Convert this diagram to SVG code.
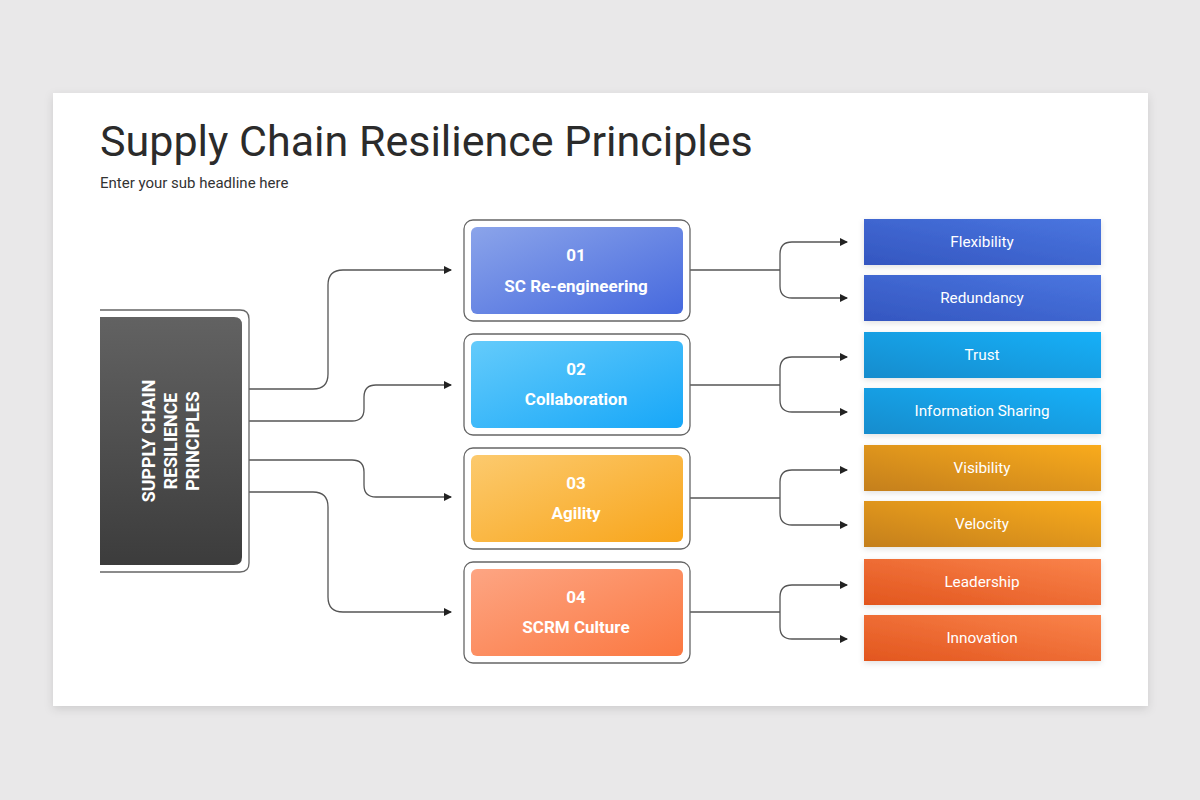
<svg xmlns="http://www.w3.org/2000/svg" width="1200" height="800" viewBox="0 0 1200 800">
<defs>
<filter id="sh" x="-5%" y="-5%" width="110%" height="115%"><feDropShadow dx="0" dy="3" stdDeviation="5" flood-color="#000" flood-opacity="0.12"/></filter>
<filter id="bs" x="-10%" y="-20%" width="120%" height="150%"><feDropShadow dx="0" dy="2" stdDeviation="3" flood-color="#000" flood-opacity="0.12"/></filter>
<linearGradient id="gDark" x1="0" y1="0" x2="0" y2="1"><stop offset="0" stop-color="#626262"/><stop offset="1" stop-color="#3c3c3c"/></linearGradient>
<linearGradient id="g1" x1="0" y1="0" x2="1" y2="1"><stop offset="0" stop-color="#8ba4ea"/><stop offset="1" stop-color="#4669de"/></linearGradient>
<linearGradient id="g2" x1="0" y1="0" x2="1" y2="1"><stop offset="0" stop-color="#64cbfb"/><stop offset="1" stop-color="#17a7f8"/></linearGradient>
<linearGradient id="g3" x1="0" y1="0" x2="1" y2="1"><stop offset="0" stop-color="#fcca6e"/><stop offset="1" stop-color="#f8a51b"/></linearGradient>
<linearGradient id="g4" x1="0" y1="0" x2="1" y2="1"><stop offset="0" stop-color="#fda583"/><stop offset="1" stop-color="#fb7841"/></linearGradient>
<linearGradient id="r1" x1="0" y1="1" x2="1" y2="0"><stop offset="0" stop-color="#3456c0"/><stop offset="1" stop-color="#4a76e0"/></linearGradient>
<linearGradient id="r2" x1="0" y1="1" x2="1" y2="0"><stop offset="0" stop-color="#168ccd"/><stop offset="1" stop-color="#18b0f8"/></linearGradient>
<linearGradient id="r3" x1="0" y1="1" x2="1" y2="0"><stop offset="0" stop-color="#c47f1a"/><stop offset="1" stop-color="#f9ab1f"/></linearGradient>
<linearGradient id="r4" x1="0" y1="1" x2="1" y2="0"><stop offset="0" stop-color="#e2561e"/><stop offset="1" stop-color="#fa834b"/></linearGradient>
<marker id="ah" markerWidth="8" markerHeight="8" refX="7" refY="4" orient="auto" markerUnits="userSpaceOnUse"><path d="M0,0 L8,4 L0,8 Z" fill="#222"/></marker>
</defs>
<style>
.ol{fill:#fff;stroke:#666;stroke-width:1.3}
.cn{fill:none;stroke:#555;stroke-width:1.3}
.num{font-family:Roboto,"Liberation Sans",sans-serif;font-weight:bold;font-size:17px;fill:#fff;text-anchor:middle}
.rl{font-family:Roboto,"Liberation Sans",sans-serif;font-size:15.3px;fill:#fff;text-anchor:middle}
</style>
<rect width="1200" height="800" fill="#e9e8e9"/>
<rect x="53" y="93" width="1095" height="613" fill="#fff" filter="url(#sh)"/>
<text x="100" y="156" font-family="Roboto,'Liberation Sans',sans-serif" font-size="43" fill="#2b2b2b">Supply Chain Resilience Principles</text>
<text x="100" y="188" font-family="Roboto,'Liberation Sans',sans-serif" font-size="15" fill="#333">Enter your sub headline here</text>

<g id="connectors">
<path class="cn" marker-end="url(#ah)" d="M249,389 H313 Q328,389 328,374 V285 Q328,270 343,270 H451"/>
<path class="cn" marker-end="url(#ah)" d="M249,421 H352 Q364,421 364,409 V397 Q364,385 376,385 H451"/>
<path class="cn" marker-end="url(#ah)" d="M249,460 H352 Q364,460 364,472 V485 Q364,497 376,497 H451"/>
<path class="cn" marker-end="url(#ah)" d="M249,492 H313 Q328,492 328,507 V597 Q328,612 343,612 H451"/>
<path class="cn" d="M690,270 H780"/>
<path class="cn" marker-end="url(#ah)" d="M780,270 V254 Q780,242 792,242 H847"/>
<path class="cn" marker-end="url(#ah)" d="M780,270 V286 Q780,298 792,298 H847"/>
<path class="cn" d="M690,385 H780"/>
<path class="cn" marker-end="url(#ah)" d="M780,385 V369 Q780,357 792,357 H847"/>
<path class="cn" marker-end="url(#ah)" d="M780,385 V400 Q780,412 792,412 H847"/>
<path class="cn" d="M690,498 H780"/>
<path class="cn" marker-end="url(#ah)" d="M780,498 V482 Q780,470 792,470 H847"/>
<path class="cn" marker-end="url(#ah)" d="M780,498 V513 Q780,525 792,525 H847"/>
<path class="cn" d="M690,612 H780"/>
<path class="cn" marker-end="url(#ah)" d="M780,612 V597 Q780,585 792,585 H847"/>
<path class="cn" marker-end="url(#ah)" d="M780,612 V627 Q780,639 792,639 H847"/>
</g>

<g id="root">
<path d="M100,310 H240 Q249,310 249,319 V563 Q249,572 240,572 H100" fill="#fff" stroke="#666" stroke-width="1.3"/>
<path d="M100,317 H234 Q242,317 242,325 V557 Q242,565 234,565 H100 Z" fill="url(#gDark)"/>
<text transform="translate(171,441) rotate(-90)" font-family="Roboto,'Liberation Sans',sans-serif" font-weight="bold" font-size="17.8" fill="#fff" text-anchor="middle"><tspan x="0" y="-16">SUPPLY CHAIN</tspan><tspan x="0" y="6">RESILIENCE</tspan><tspan x="0" y="28">PRINCIPLES</tspan></text>
</g>

<g id="n1">
<rect class="ol" x="464" y="220" width="226" height="101" rx="9"/>
<rect x="471" y="227" width="212" height="87" rx="6" fill="url(#g1)"/>
<text class="num" x="576" y="261">01</text>
<text class="num" x="576" y="292">SC Re-engineering</text>
</g>
<g id="n2">
<rect class="ol" x="464" y="334" width="226" height="101" rx="9"/>
<rect x="471" y="341" width="212" height="87" rx="6" fill="url(#g2)"/>
<text class="num" x="576" y="375">02</text>
<text class="num" x="576" y="405">Collaboration</text>
</g>
<g id="n3">
<rect class="ol" x="464" y="448" width="226" height="101" rx="9"/>
<rect x="471" y="455" width="212" height="87" rx="6" fill="url(#g3)"/>
<text class="num" x="576" y="489">03</text>
<text class="num" x="576" y="519">Agility</text>
</g>
<g id="n4">
<rect class="ol" x="464" y="562" width="226" height="101" rx="9"/>
<rect x="471" y="569" width="212" height="87" rx="6" fill="url(#g4)"/>
<text class="num" x="576" y="603">04</text>
<text class="num" x="576" y="633">SCRM Culture</text>
</g>

<g id="flexibility"><rect x="864" y="219" width="237" height="46" fill="url(#r1)" filter="url(#bs)"/><text class="rl" x="982" y="247">Flexibility</text></g>
<g id="redundancy"><rect x="864" y="275" width="237" height="46" fill="url(#r1)" filter="url(#bs)"/><text class="rl" x="982" y="303">Redundancy</text></g>
<g id="trust"><rect x="864" y="332" width="237" height="46" fill="url(#r2)" filter="url(#bs)"/><text class="rl" x="982" y="360">Trust</text></g>
<g id="infosharing"><rect x="864" y="388" width="237" height="46" fill="url(#r2)" filter="url(#bs)"/><text class="rl" x="982" y="416">Information Sharing</text></g>
<g id="visibility"><rect x="864" y="445" width="237" height="46" fill="url(#r3)" filter="url(#bs)"/><text class="rl" x="982" y="473">Visibility</text></g>
<g id="velocity"><rect x="864" y="501" width="237" height="46" fill="url(#r3)" filter="url(#bs)"/><text class="rl" x="982" y="529">Velocity</text></g>
<g id="leadership"><rect x="864" y="559" width="237" height="46" fill="url(#r4)" filter="url(#bs)"/><text class="rl" x="982" y="587">Leadership</text></g>
<g id="innovation"><rect x="864" y="615" width="237" height="46" fill="url(#r4)" filter="url(#bs)"/><text class="rl" x="982" y="643">Innovation</text></g>
</svg>
